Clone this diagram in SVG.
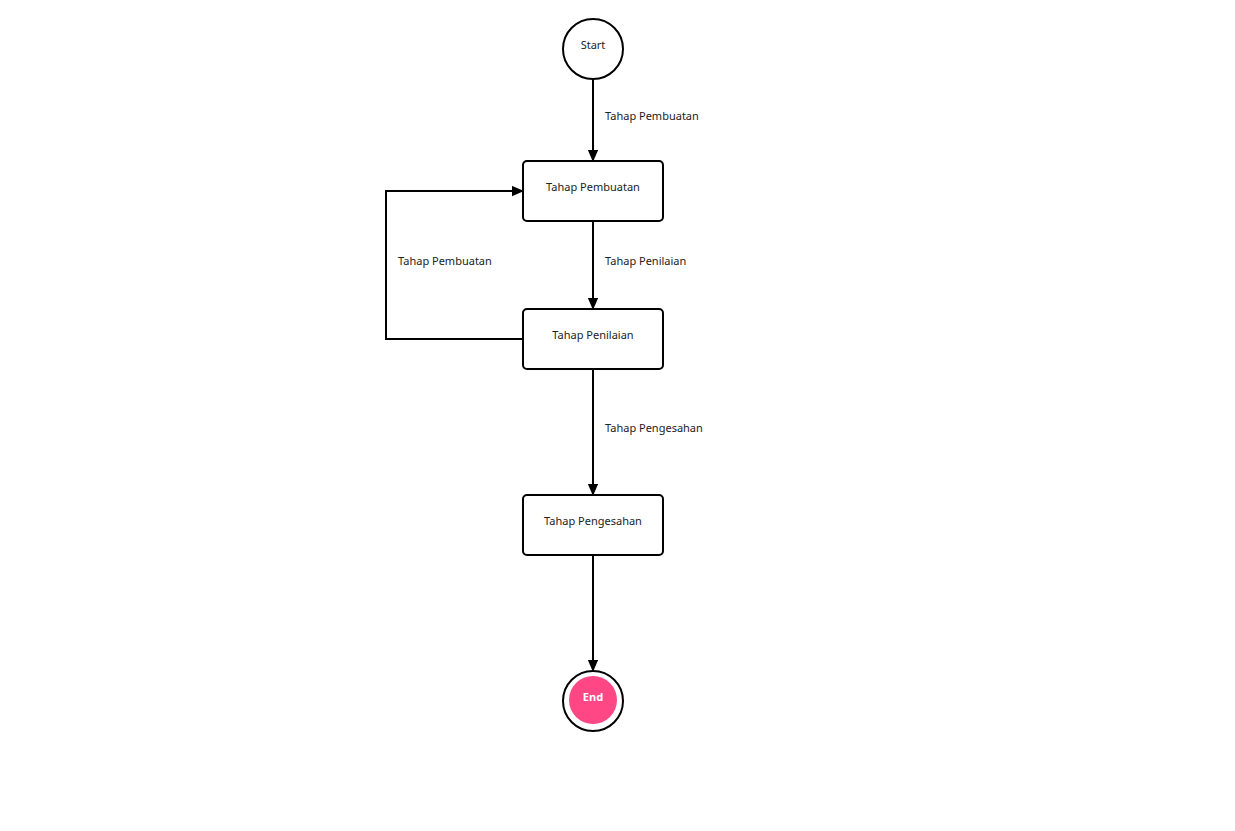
<svg xmlns="http://www.w3.org/2000/svg" width="1235" height="831" viewBox="0 0 1235 831">
<style>
.node{fill:#ffffff;stroke:#000000;stroke-width:2}
.t{font-family:"Noto Sans","Open Sans",sans-serif;font-size:11px;fill:#222222}
.c{text-anchor:middle}
.edge{fill:none;stroke:#000000;stroke-width:2}
.end{font-family:"Noto Sans","Open Sans",sans-serif;font-size:11px;font-weight:bold;fill:#ffffff;text-anchor:middle}
</style>
<defs>
<marker id="arr" viewBox="0 0 12 14" refX="14" refY="6" markerWidth="14" markerHeight="12" markerUnits="userSpaceOnUse" orient="auto">
<path d="M0,0 L14,6 L0,12 Z" fill="#000000"/>
</marker>
</defs>
<rect width="1235" height="831" fill="#ffffff"/>
<g id="connectors">
<path class="edge" d="M593,79 L593,162" marker-end="url(#arr)"/>
<path class="edge" d="M593,221 L593,310" marker-end="url(#arr)"/>
<path class="edge" d="M593,369 L593,496" marker-end="url(#arr)"/>
<path class="edge" d="M593,555 L593,672" marker-end="url(#arr)"/>
<path class="edge" d="M523,339 L386,339 L386,191 L524,191" marker-end="url(#arr)"/>
<text class="t" x="605" y="120">Tahap Pembuatan</text>
<text class="t" x="605" y="265">Tahap Penilaian</text>
<text class="t" x="398" y="265">Tahap Pembuatan</text>
<text class="t" x="605" y="432">Tahap Pengesahan</text>
</g>
<g id="start">
<circle class="node" cx="593" cy="49" r="30"/>
<text class="t c" x="593" y="49">Start</text>
</g>
<g id="pembuatan">
<rect class="node" x="523" y="161" width="140" height="60" rx="4"/>
<text class="t c" x="593" y="191">Tahap Pembuatan</text>
</g>
<g id="penilaian">
<rect class="node" x="523" y="309" width="140" height="60" rx="4"/>
<text class="t c" x="593" y="339">Tahap Penilaian</text>
</g>
<g id="pengesahan">
<rect class="node" x="523" y="495" width="140" height="60" rx="4"/>
<text class="t c" x="593" y="525">Tahap Pengesahan</text>
</g>
<g id="end">
<circle class="node" cx="593" cy="701" r="30"/>
<circle cx="593" cy="700" r="24" fill="#ff4785"/>
<text class="end" x="593" y="701">End</text>
</g>
</svg>
